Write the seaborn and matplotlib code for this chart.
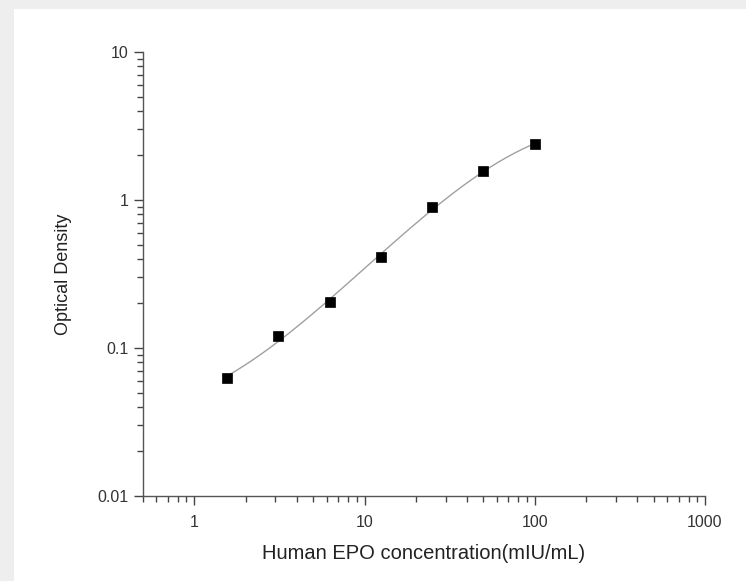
import numpy as np
import pandas as pd
import matplotlib.pyplot as plt
import matplotlib.ticker as mticker
from matplotlib.patches import Rectangle
import seaborn as sns

concentracion = [1.5625, 3.125, 6.25, 12.5, 25, 50, 100]
densidad_optica = [0.063, 0.120, 0.205, 0.412, 0.90, 1.57, 2.38]

df = pd.DataFrame({'conc': concentracion, 'od': densidad_optica})

# Ajuste suave en escala log-log (polinomio cubico) a partir de los puntos
coef = np.polyfit(np.log10(df['conc']), np.log10(df['od']), 3)
x_fit = np.logspace(np.log10(df['conc'].min()), np.log10(df['conc'].max()), 200)
curva = pd.DataFrame({'conc': x_fit, 'od': 10 ** np.polyval(coef, np.log10(x_fit))})

sns.set_style('ticks')
plt.rcParams['font.family'] = ['Liberation Sans', 'DejaVu Sans']

fig = plt.figure(figsize=(7.46, 5.81), dpi=100, facecolor='#eeeeee')
fig.patches.append(Rectangle((14 / 746, 0), 1, 1 - 9 / 581, transform=fig.transFigure,
                             facecolor='white', edgecolor='none', zorder=-10))
ax = fig.add_axes([143 / 746, 1 - 496 / 581, (705 - 143) / 746, (496 - 52) / 581])
ax.set_zorder(5)
ax.set_facecolor('white')

sns.lineplot(data=curva, x='conc', y='od', ax=ax, color='#a0a0a0', linewidth=1.0)
sns.scatterplot(data=df, x='conc', y='od', ax=ax, marker='s', s=42, color='black',
                edgecolor='black', linewidth=0.5, zorder=3)

ax.set_xscale('log')
ax.set_yscale('log')
ax.set_xlim(0.5, 1000)
ax.set_ylim(0.01, 10)

ax.xaxis.set_major_formatter(mticker.FuncFormatter(lambda v, p: f'{v:g}'))
ax.yaxis.set_major_formatter(mticker.FuncFormatter(lambda v, p: f'{v:g}'))
ax.xaxis.set_minor_locator(mticker.LogLocator(base=10, subs=np.arange(2, 10)))
ax.yaxis.set_minor_locator(mticker.LogLocator(base=10, subs=np.arange(2, 10)))
ax.xaxis.set_minor_formatter(mticker.NullFormatter())
ax.yaxis.set_minor_formatter(mticker.NullFormatter())

ax.tick_params(axis='both', which='major', direction='out', length=6.5, width=1,
               color='#444444', labelsize=11.5, labelcolor='#333333')
ax.tick_params(axis='x', which='major', pad=7)
ax.tick_params(axis='y', which='major', pad=4)
ax.tick_params(axis='both', which='minor', direction='out', length=4, width=1,
               color='#444444')

sns.despine(ax=ax)
for lado in ['left', 'bottom']:
    ax.spines[lado].set_color('#555555')
    ax.spines[lado].set_linewidth(1.0)

ax.set_xlabel('Human EPO concentration(mIU/mL)', fontsize=14.5, color='#222222', labelpad=10)
ax.set_ylabel('Optical Density', fontsize=13, color='#222222', labelpad=18)

fig.savefig('out.png', dpi=100, facecolor=fig.get_facecolor())
